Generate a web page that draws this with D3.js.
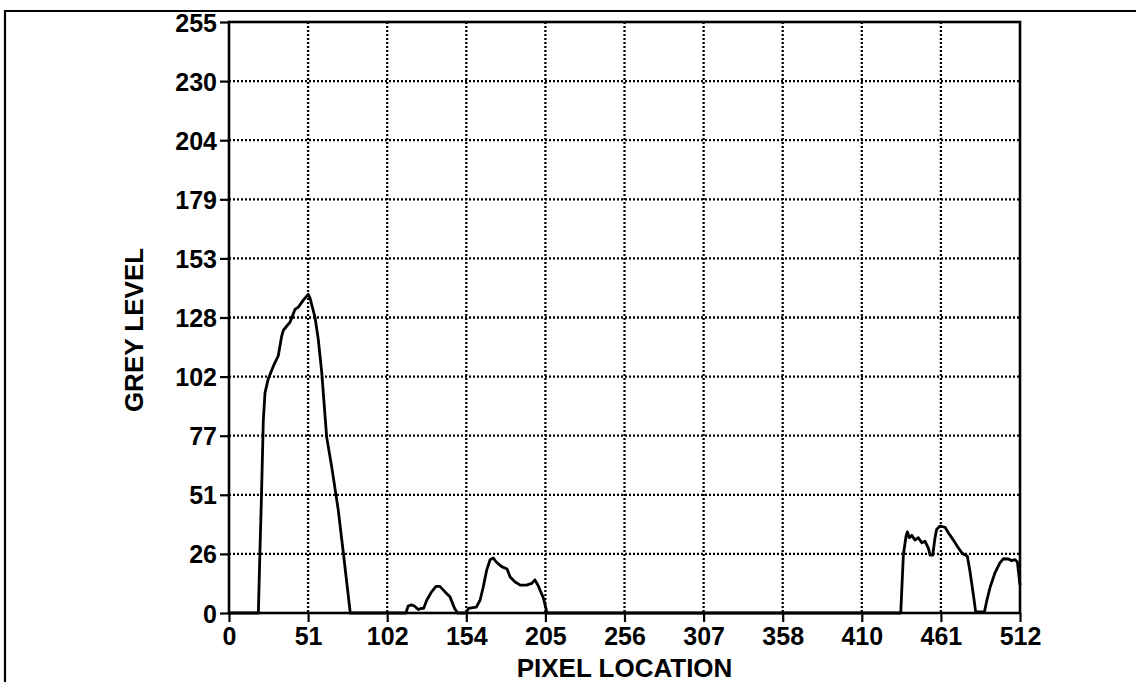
<!DOCTYPE html>
<html>
<head>
<meta charset="utf-8">
<script src="https://cdn.jsdelivr.net/npm/d3@7"></script>
<style>
  html, body { margin: 0; padding: 0; background: #fff; }
  svg { display: block; }
  text { font-family: "Liberation Sans", Arial, sans-serif; font-weight: bold; fill: #000; }
</style>
</head>
<body>
<svg id="chart" width="1136" height="682"></svg>
<script>
// ---- data ----
const xTickValues = [0, 51.2, 102.4, 153.6, 204.8, 256, 307.2, 358.4, 409.6, 460.8, 512];
const xTickLabels = ["0", "51", "102", "154", "205", "256", "307", "358", "410", "461", "512"];
const yTickValues = [0, 25.5, 51, 76.5, 102, 127.5, 153, 178.5, 204, 229.5, 255];
const yTickLabels = ["0", "26", "51", "77", "102", "128", "153", "179", "204", "230", "255"];

const pixelLoc = [
  0, 19, 20, 21, 22.2, 23.3, 25.4, 28.7, 31.9, 34.1, 35.2, 39.5, 42.7, 44.9, 48.1, 51.3, 52.4, 55.7, 57.8, 60, 63.2, 66.5, 70.7, 74, 78.5,
  114.5, 116, 118, 120, 122.5, 124.5, 126, 128, 131, 134, 136.5, 140, 143, 146, 148,
  153.5, 155, 160, 162.5, 164.5, 166.8, 169, 171, 173, 176.5, 180, 182, 185, 188.5, 192.5, 196, 198, 200, 203.5, 205.5, 206,
  434.8, 436.5, 438.2, 439.1, 440.4, 442, 444, 446.2, 448.4, 450.5, 452.7, 453.8, 455.5, 457, 458, 460.2, 463.5, 465.6, 467.8, 470, 472, 474.3, 476.4, 477.9, 479.6, 481.8, 483.3, 489, 490.4, 492.6, 495.8, 499, 501.2, 504.4, 506.6, 508.8, 510.3, 512
];
const greyLevel = [
  0, 0, 26, 50, 83, 95, 101, 106.5, 111, 119.5, 122, 125.5, 131, 132, 135, 137.5, 136, 127.5, 118, 104, 76, 63, 44.5, 26, 0,
  0, 3, 3.5, 3, 1.5, 2, 2, 5.5, 9, 11.5, 11.5, 9, 7, 2, 0,
  0, 2, 2.5, 5.5, 11, 18.5, 23, 23.8, 22, 20, 19, 15.5, 13.5, 12, 12, 12.8, 14.3, 12, 6.5, 1, 0,
  0, 25, 33, 35, 32.5, 33.5, 31.5, 32.5, 30.3, 31, 28, 25, 25, 32.5, 36, 37.5, 37, 34.6, 32.5, 30.3, 28.2, 26, 25, 24.6, 18, 8, 0.5, 0.5, 5, 11, 17.3, 21.6, 23.4, 23.3, 22.6, 23, 22, 12
];
const xTitle = "PIXEL LOCATION";
const yTitle = "GREY LEVEL";

// ---- layout ----
const W = 1136, H = 682;
const plot = { left: 229, right: 1020, top: 22, bottom: 613 };

const svg = d3.select("#chart");

const x = d3.scaleLinear().domain([0, 512]).range([plot.left, plot.right]);
const y = d3.scaleLinear().domain([0, 255]).range([plot.bottom, plot.top]);

// outer page border (top and left only, as in the scan)
svg.append("path")
  .attr("d", `M5,${H} L5,11 L${W},11`)
  .attr("fill", "none").attr("stroke", "#000").attr("stroke-width", 2.2);

// gridlines
const grid = svg.append("g").attr("stroke", "#000").attr("stroke-width", 2.3).attr("stroke-dasharray", "2,2");
grid.selectAll("line.v").data(xTickValues.slice(1, -1)).join("line")
  .attr("x1", d => x(d)).attr("x2", d => x(d))
  .attr("y1", plot.top).attr("y2", plot.bottom);
grid.selectAll("line.h").data(yTickValues.slice(1, -1)).join("line")
  .attr("class", "h")
  .attr("x1", plot.left).attr("x2", plot.right)
  .attr("y1", d => y(d)).attr("y2", d => y(d));

// axes
const xAxis = d3.axisBottom(x).tickValues(xTickValues)
  .tickFormat((d, i) => xTickLabels[i]).tickSize(9).tickPadding(5);
const yAxis = d3.axisLeft(y).tickValues(yTickValues)
  .tickFormat((d, i) => yTickLabels[i]).tickSize(9).tickPadding(3);

const gx = svg.append("g").attr("transform", `translate(0,${plot.bottom})`).call(xAxis);
const gy = svg.append("g").attr("transform", `translate(${plot.left},0)`).call(yAxis);
[gx, gy].forEach(g => {
  g.select(".domain").remove();
  g.selectAll(".tick line").attr("stroke", "#000").attr("stroke-width", 2.2);
  g.selectAll(".tick text")
    .style("font-family", '"Liberation Sans", Arial, sans-serif')
    .style("font-weight", "bold").style("font-size", "25px").attr("fill", "#000");
});
gy.selectAll(".tick text").attr("dy", "0.36em");

// plot frame
svg.append("rect")
  .attr("x", plot.left).attr("y", plot.top)
  .attr("width", plot.right - plot.left).attr("height", plot.bottom - plot.top)
  .attr("fill", "none").attr("stroke", "#000").attr("stroke-width", 2.6);

// data line
const line = d3.line().x(d => x(d[0])).y(d => y(d[1]));
svg.append("path")
  .datum(pixelLoc.map((p, i) => [p, greyLevel[i]]))
  .attr("d", line)
  .attr("fill", "none").attr("stroke", "#000").attr("stroke-width", 2.8)
  .attr("stroke-linejoin", "round");

// axis titles
svg.append("text")
  .attr("x", (plot.left + plot.right) / 2).attr("y", 677)
  .attr("text-anchor", "middle").style("font-size", "26px")
  .text(xTitle);
svg.append("text")
  .attr("transform", `translate(143,330) rotate(-90)`)
  .attr("text-anchor", "middle").style("font-size", "26px")
  .text(yTitle);
</script>
</body>
</html>
